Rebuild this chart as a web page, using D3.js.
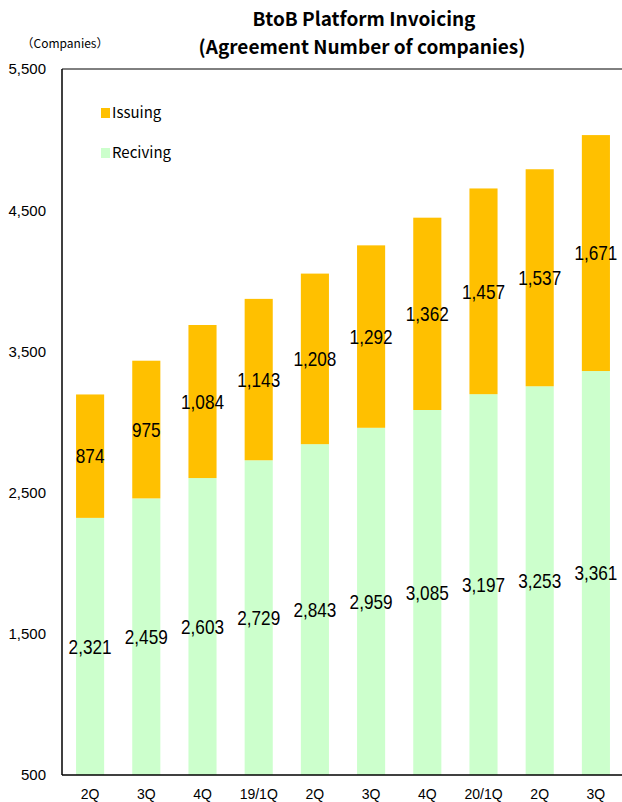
<!DOCTYPE html>
<html><head><meta charset="utf-8">
<script src="https://cdn.jsdelivr.net/npm/d3@7"></script>
<style>
body{margin:0;background:#fff;}
svg{display:block;}
text{font-family:"Liberation Sans",Arial,sans-serif;fill:#000;}
</style></head><body>
<svg id="chart" width="622" height="802"></svg>
<script>
const categories = ["2Q","3Q","4Q","19/1Q","2Q","3Q","4Q","20/1Q","2Q","3Q"];
const reciving = [2321,2459,2603,2729,2843,2959,3085,3197,3253,3361];
const issuing = [874,975,1084,1143,1208,1292,1362,1457,1537,1671];
const yTicks = [500,1500,2500,3500,4500,5500];
const seriesNames = ["Issuing","Reciving"];
const colors = {Issuing:"#FFC000", Reciving:"#CCFFCC"};

const svg = d3.select("#chart");
const m = {left:62, right:624, top:69, bottom:775};
const idx = categories.map((c,i)=>i);
const x = d3.scaleBand().domain(idx).range([m.left, m.right]).paddingInner(0.5).paddingOuter(0.25);
const y = d3.scaleLinear().domain([500,5500]).range([m.bottom, m.top]);
const fmt = d3.format(",");

const data = idx.map(i=>({i, Reciving:reciving[i], Issuing:issuing[i]}));
const series = d3.stack().keys(["Reciving","Issuing"])(data);

svg.append("defs").append("clipPath").attr("id","clip")
  .append("rect").attr("x",m.left).attr("y",m.top).attr("width",m.right-m.left).attr("height",m.bottom-m.top);

const g = svg.append("g").attr("clip-path","url(#clip)");
series.forEach(s=>{
  g.selectAll(null).data(s).enter().append("rect")
    .attr("x",d=>x(d.data.i))
    .attr("width",x.bandwidth())
    .attr("y",d=>y(d[1]))
    .attr("height",d=>y(Math.max(d[0],500))-y(d[1]))
    .attr("fill",colors[s.key]);
});

// value labels (horizontally condensed like the original)
series.forEach(s=>{
  svg.selectAll(null).data(s).enter().append("text")
    .attr("transform",d=>{
      const cx = x(d.data.i)+x.bandwidth()/2;
      const cy = (y(Math.max(d[0],500))+y(d[1]))/2;
      return `translate(${cx},${cy}) scale(0.86,1)`;
    })
    .attr("dy","0.36em")
    .attr("text-anchor","middle")
    .style("font-size","20px")
    .text(d=>fmt(d.data[s.key]));
});

// axes frame
svg.append("line").attr("x1",m.left).attr("x2",m.left).attr("y1",m.top).attr("y2",m.bottom)
  .attr("stroke","#000").attr("stroke-width",1.5);
svg.append("line").attr("x1",m.left).attr("x2",622).attr("y1",m.bottom).attr("y2",m.bottom)
  .attr("stroke","#000").attr("stroke-width",1.5);
svg.append("line").attr("x1",m.left).attr("x2",622).attr("y1",m.top).attr("y2",m.top)
  .attr("stroke","#000").attr("stroke-width",1);

// y axis labels
const yAxis = d3.axisLeft(y).tickValues(yTicks).tickFormat(fmt).tickSize(0).tickPadding(16);
const ya = svg.append("g").attr("transform",`translate(${m.left},0)`).call(yAxis);
ya.select(".domain").remove();
ya.selectAll("text").style("font-size","15px").attr("font-family",null).style("font-family",'"Liberation Sans",Arial,sans-serif');

// x axis labels
const xAxis = d3.axisBottom(x).tickFormat(i=>categories[i]).tickSize(0).tickPadding(14);
const xa = svg.append("g").attr("transform",`translate(0,${m.bottom})`).call(xAxis);
xa.select(".domain").remove();
xa.selectAll("text").style("font-size","14px").attr("font-family",null).style("font-family",'"Liberation Sans",Arial,sans-serif');

// title
svg.append("text").attr("x",364).attr("y",26).attr("text-anchor","middle")
  .style("font-family",'"Noto Sans CJK JP","Noto Sans",sans-serif').style("font-weight","bold").style("font-size","19px")
  .text("BtoB Platform Invoicing");
svg.append("text").attr("x",362).attr("y",54).attr("text-anchor","middle")
  .style("font-family",'"Noto Sans CJK JP","Noto Sans",sans-serif').style("font-weight","bold").style("font-size","19px")
  .text("(Agreement Number of companies)");
svg.append("text").attr("x",65).attr("y",48).attr("text-anchor","middle")
  .style("font-family",'"Noto Sans CJK JP",sans-serif').style("font-size","12px")
  .text("（Companies）");

// legend
const leg = svg.append("g");
seriesNames.forEach((n,k)=>{
  const yy = 113 + k*40;
  leg.append("rect").attr("x",101).attr("y",yy-5).attr("width",9).attr("height",10).attr("fill",colors[n]);
  leg.append("text").attr("x",112).attr("y",yy).attr("dy","0.36em")
    .style("font-size","15px").style("font-family",'"Noto Sans CJK JP",sans-serif').text(n);
});
</script>
</body></html>
